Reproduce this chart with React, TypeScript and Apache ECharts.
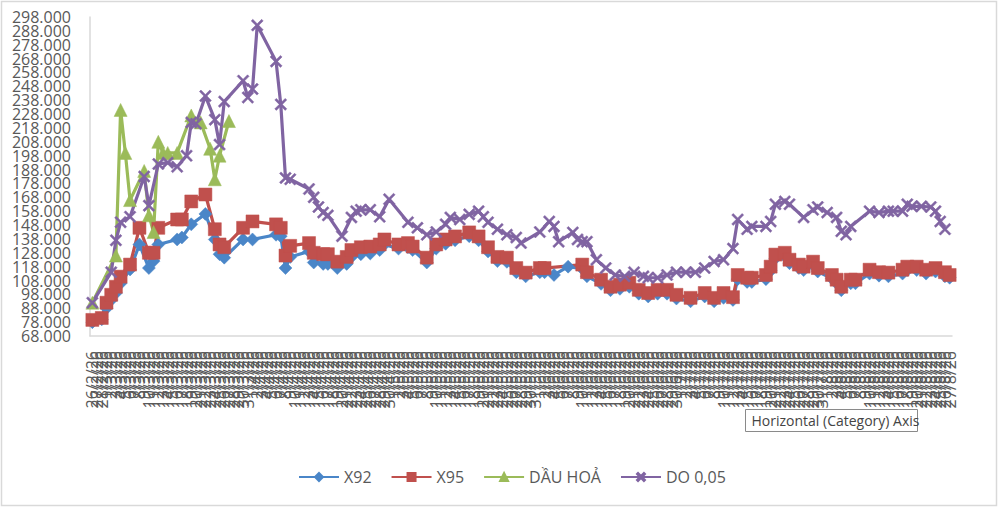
import React, { useEffect, useRef } from "react";
import * as echarts from "echarts";

// Category labels: one per day, 26/2/26 .. 27/8/26
const DATES: string[] = (() => {
  const out: string[] = [];
  const d = new Date(2026, 1, 26);
  for (let i = 0; i < 183; i++) {
    out.push(`${d.getDate()}/${d.getMonth() + 1}/26`);
    d.setDate(d.getDate() + 1);
  }
  return out;
})();

const SERIES_NAMES = ["X92", "X95", "DẦU HOẢ", "DO 0,05"];

// [day index, value]
const X92_POINTS: [number, number][] = [
  [0,78000],[2,80000],[3,88000],[4,94000],[5,99000],[6,106000],[8,116000],[10,134000],[12,117000],[13,122000],[14,134000],[18,137600],[19,139000],[21,148500],[24,156000],[26,137600],[27,127000],[28,124500],[32,137600],[34,137600],[39,141000],[40,140000],[41,117000],[42,125000],[46,129000],[47,121000],[49,120000],[50,120000],[52,117000],[54,120000],[55,125000],[57,127000],[59,127500],[61,130000],[62,134000],[65,131000],[67,132000],[68,130000],[71,121000],[73,131000],[75,134500],[77,137000],[80,140000],[82,137000],[84,129000],[86,122000],[88,121500],[90,114000],[92,111000],[95,114000],[96,114000],[98,112000],[101,118000],[104,116500],[105,111000],[108,105600],[110,101000],[112,102000],[114,103500],[116,98500],[118,96500],[120,98500],[122,98500],[124,95000],[127,93000],[130,96500],[132,93000],[134,95500],[136,94000],[137,109000],[139,107000],[140,107000],[143,109000],[144,115000],[145,124000],[147,125500],[148,120500],[150,117000],[151,115500],[153,119000],[154,114500],[157,109500],[158,106000],[159,101000],[161,106000],[162,106000],[165,113000],[167,111500],[169,111000],[172,113000],[173,115500],[175,115500],[177,113000],[179,114500],[181,111000],[182,110000],
];

const X95_POINTS: [number, number][] = [
  [0,79600],[2,81000],[3,92000],[4,97700],[5,103500],[6,110800],[8,119500],[10,146000],[12,128000],[13,128000],[14,146000],[18,152000],[19,152000],[21,165000],[24,170000],[26,145000],[27,134000],[28,132000],[32,146000],[34,150600],[39,148500],[40,146000],[41,126000],[42,133000],[46,135000],[47,128000],[49,127000],[50,127000],[52,121600],[54,125000],[55,130000],[57,132000],[59,132500],[61,134000],[62,137600],[65,134000],[67,135000],[68,132500],[71,124500],[73,134000],[75,137600],[77,139800],[80,142700],[82,139800],[84,132000],[86,125000],[88,124500],[90,117000],[92,113700],[95,117000],[96,117000],[104,119500],[105,114000],[108,108600],[110,103500],[112,105000],[114,106400],[116,101300],[118,99000],[120,101300],[122,101300],[124,97700],[127,95500],[130,99000],[132,95500],[134,99000],[136,96000],[137,112000],[139,110000],[140,110000],[143,112000],[144,118000],[145,126700],[147,128000],[148,123000],[150,119500],[151,118000],[153,121600],[154,117000],[157,112000],[158,108600],[159,103500],[161,108600],[162,108600],[165,115800],[167,114000],[169,113700],[172,115800],[173,118000],[175,118000],[177,115800],[179,117000],[181,114000],[182,112000],
];

const DAU_POINTS: [number, number][] = [
  [0,92000],[5,126000],[6,231000],[7,200000],[8,166000],[11,187000],[12,155000],[13,143000],[14,208000],[15,200000],[16,200000],[18,200000],[21,227000],[23,222000],[25,203000],[26,181000],[27,198000],[29,223000],
];

const DO_POINTS: [number, number][] = [
  [0,92000],[4,114000],[5,137000],[6,150000],[8,154000],[11,183000],[12,162000],[14,192000],[16,193000],[18,190000],[20,198000],[21,222000],[22,221000],[24,241000],[26,224000],[27,206000],[28,237000],[32,252000],[33,240000],[34,246000],[35,292000],[39,266000],[40,235000],[41,182000],[42,181000],[46,174000],[47,168000],[48,161000],[49,157000],[50,155000],[53,140000],[55,153500],[56,158000],[57,159000],[59,159000],[61,154000],[63,166600],[67,150000],[69,146000],[71,141000],[73,143000],[75,148500],[76,153500],[78,152000],[80,155700],[82,158000],[83,154000],[84,150000],[86,145000],[88,141000],[90,139000],[91,135000],[95,143000],[97,150600],[98,147000],[99,136000],[102,142700],[103,137600],[104,136000],[105,136000],[107,123000],[109,117000],[111,112000],[113,111000],[115,114000],[117,111000],[118,110000],[120,110000],[122,112000],[124,114000],[126,114000],[128,114000],[130,117000],[132,121700],[134,123000],[136,131000],[137,152000],[139,145000],[140,147000],[143,147000],[144,150600],[145,163000],[147,165000],[148,163000],[151,153500],[153,159000],[154,161000],[156,157000],[158,153500],[159,143500],[160,141000],[161,147000],[165,158000],[167,157000],[169,158000],[170,158000],[172,158000],[173,163000],[174,161500],[176,161500],[178,161000],[179,158000],[180,150600],[181,145000],
];

const Y_MIN = 68000;
const Y_MAX = 298000;
const Y_STEP = 10000;

const FONT = "'Open Sans', 'Liberation Sans', sans-serif";
const TEXT_COLOR = "#595959";
const AXIS_COLOR = "#d9d9d9";

const X_SYMBOL =
  "path://M0,1.3 L1.3,0 L5,3.7 L8.7,0 L10,1.3 L6.3,5 L10,8.7 L8.7,10 L5,6.3 L1.3,10 L0,8.7 L3.7,5 Z";

function toData(points: [number, number][]) {
  return points.map(([d, v]) => [DATES[d], v]);
}

const fmtY = (v: number) => `${Math.round(v / 1000)}.000`;

export default function App() {
  const ref = useRef<HTMLDivElement>(null);

  useEffect(() => {
    document.body.style.margin = "0";
    if (!ref.current) return;
    const chart = echarts.init(ref.current, undefined, { renderer: "svg" });

    const mk = (
      name: string,
      points: [number, number][],
      color: string,
      symbol: string,
      symbolSize: number
    ) => ({
      name,
      type: "line",
      yAxisIndex: 0,
      data: toData(points),
      symbol,
      symbolSize,
      showSymbol: true,
      lineStyle: { color, width: 3.2 },
      itemStyle: { color, borderColor: color, borderWidth: 0.5 },
      emphasis: { disabled: true },
    });

    const yLabelBase = {
      margin: 19,
      color: TEXT_COLOR,
      fontSize: 16,
      fontFamily: FONT,
    };

    chart.setOption({
      animation: false,
      backgroundColor: "#ffffff",
      grid: { left: 90, right: 48, top: 17, bottom: 173, containLabel: false },
      xAxis: {
        type: "category",
        data: DATES,
        boundaryGap: true,
        axisLine: { show: true, lineStyle: { color: AXIS_COLOR, width: 1.5 } },
        axisTick: { show: false },
        splitLine: { show: false },
        axisLabel: {
          rotate: 90,
          interval: 0,
          margin: 15,
          color: TEXT_COLOR,
          fontSize: 16,
          fontFamily: FONT,
        },
      },
      yAxis: [
        {
          type: "value",
          position: "left",
          min: Y_MIN,
          max: Y_MAX,
          interval: Y_STEP,
          axisLine: { show: true, lineStyle: { color: AXIS_COLOR, width: 1.5 } },
          axisTick: { show: false },
          splitLine: { show: false },
          axisLabel: {
            ...yLabelBase,
            showMinLabel: false,
            showMaxLabel: false,
            formatter: fmtY,
          },
        },
        {
          type: "value",
          position: "left",
          offset: 0,
          min: Y_MIN,
          max: Y_MAX,
          interval: Y_STEP,
          axisLine: { show: false },
          axisTick: { show: false },
          splitLine: { show: false },
          axisLabel: {
            ...yLabelBase,
            showMinLabel: true,
            showMaxLabel: true,
            formatter: (v: number) =>
              v === Y_MIN || v === Y_MAX ? fmtY(v) : "",
          },
        },
      ],
      legend: {
        data: SERIES_NAMES,
        left: 293,
        top: 464,
        itemWidth: 40,
        itemHeight: 10,
        itemGap: 19,
        textStyle: { color: TEXT_COLOR, fontSize: 16, fontFamily: FONT },
      },
      series: [
        mk(SERIES_NAMES[0], X92_POINTS, "#4A86C8", "diamond", 13),
        mk(SERIES_NAMES[1], X95_POINTS, "#C0504D", "rect", 13),
        mk(SERIES_NAMES[2], DAU_POINTS, "#9BBB59", "triangle", 13),
        mk(SERIES_NAMES[3], DO_POINTS, "#8064A2", X_SYMBOL, 12),
      ],
      graphic: [
        {
          type: "rect",
          silent: true,
          z: -10,
          shape: { x: 1.5, y: 1.5, width: 995, height: 504 },
          style: { fill: "none", stroke: "#d9d9d9", lineWidth: 1.5 },
        },
        {
          type: "group",
          left: 745,
          top: 409,
          z: 100,
          children: [
            {
              type: "rect",
              shape: { x: 0, y: 0, width: 172, height: 22 },
              style: { fill: "#ffffff", stroke: "#8a8a8a", lineWidth: 1 },
              z: 100,
            },
            {
              type: "text",
              x: 6,
              y: 11,
              z: 101,
              style: {
                text: "Horizontal (Category) Axis",
                fontSize: 14,
                fontFamily: FONT,
                fill: "#444444",
                verticalAlign: "middle",
              },
            },
          ],
        },
      ],
    });

    return () => chart.dispose();
  }, []);

  return <div ref={ref} style={{ width: 1000, height: 509 }} />;
}
